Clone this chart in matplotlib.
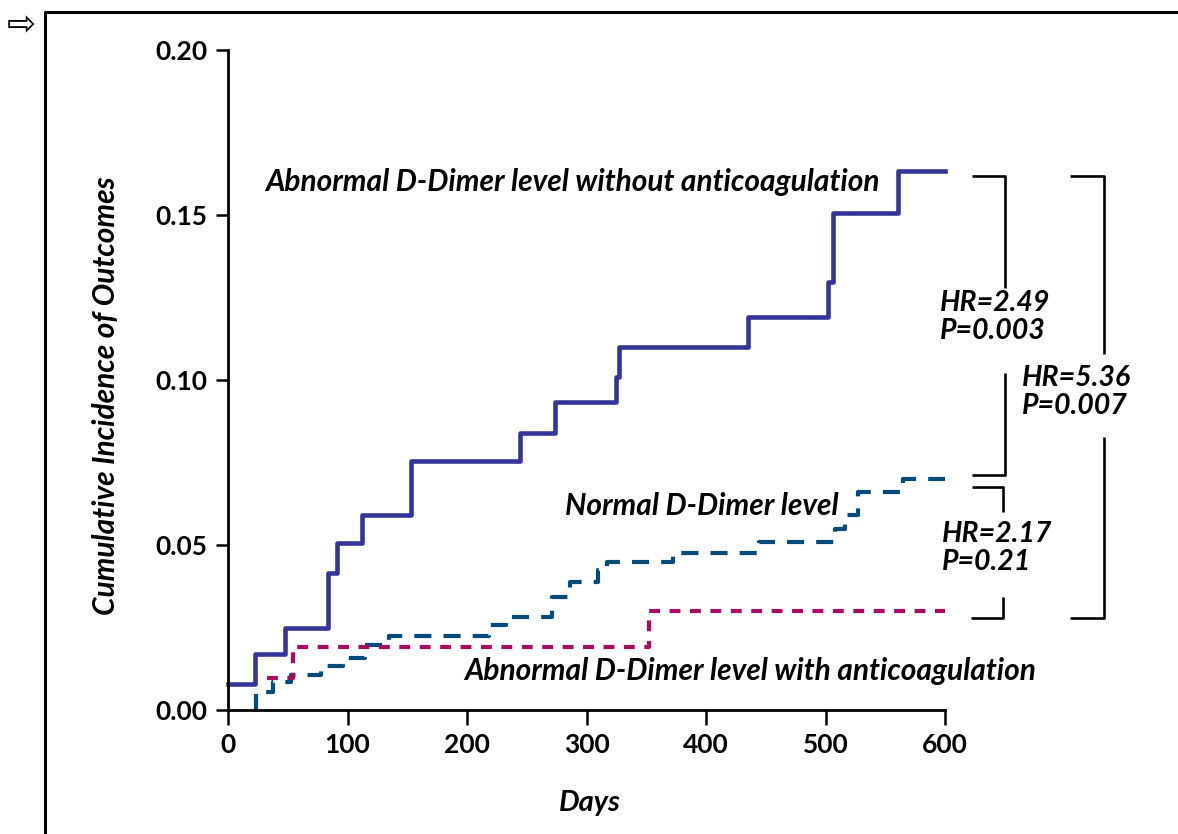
import numpy as np
import matplotlib
matplotlib.use("Agg")
import matplotlib.pyplot as plt

# step data (days, cumulative incidence)
abn_noac_days = [0, 23, 48, 84, 91, 112, 153, 244, 274, 325, 327, 435, 502, 506, 561, 600]
abn_noac_vals = [0.008, 0.017, 0.025, 0.0415, 0.0506, 0.059, 0.0755, 0.084, 0.0933, 0.101,
                 0.110, 0.119, 0.1297, 0.1506, 0.1633, 0.1633]

normal_days = [23, 23.5, 38, 53, 78, 96, 115, 135, 218, 233, 271, 286, 310, 317, 372,
               444, 508, 516, 527, 565, 600]
normal_vals = [0.0, 0.0055, 0.0085, 0.0106, 0.0133, 0.0158, 0.0197, 0.0224, 0.0258, 0.0282,
               0.0342, 0.0388, 0.0424, 0.0448, 0.0476, 0.051, 0.055, 0.059, 0.066, 0.070, 0.070]

abn_ac_days = [33, 54, 352, 600]
abn_ac_vals = [0.0097, 0.019, 0.030, 0.030]

xticks = [0, 100, 200, 300, 400, 500, 600]
yticks = [0.00, 0.05, 0.10, 0.15, 0.20]

FONT = ['Lato', 'DejaVu Sans']
c_solid = '#34349a'
c_navy = '#054a7b'
c_maroon = '#a90b5e'

fig = plt.figure(figsize=(11.78, 8.34), dpi=100)
ax = fig.add_axes([228/1178, 1-710/834, (945-228)/1178, (710-50)/834])
ax.set_xlim(0, 600)
ax.set_ylim(0, 0.20)

ax.step(abn_noac_days, abn_noac_vals, where='post', color=c_solid, lw=3.3, clip_on=False)
ax.step(normal_days, normal_vals, where='post', color=c_navy, lw=3.0,
        dashes=(4.1, 2.9), dash_capstyle='butt', clip_on=False)
ax.step(abn_ac_days, abn_ac_vals, where='post', color=c_maroon, lw=3.0,
        dashes=(2.6, 2.3), dash_capstyle='butt', clip_on=False)

for s in ['top', 'right']:
    ax.spines[s].set_visible(False)
for s in ['left', 'bottom']:
    ax.spines[s].set_linewidth(2.0)

ax.set_xticks(xticks)
ax.set_yticks(yticks)
ax.set_xticklabels([str(t) for t in xticks], fontsize=19, fontweight='bold', family=FONT)
ax.set_yticklabels(['%.2f' % t for t in yticks], fontsize=19, fontweight='bold', family=FONT)
ax.tick_params(axis='x', length=10.5, width=1.8, pad=6, direction='out')
ax.tick_params(axis='y', length=8.5, width=1.8, pad=6, direction='out')

lab = dict(fontsize=21.5, fontweight='bold', fontstyle='italic', family=FONT)
ax.text(31, 0.160, 'Abnormal D-Dimer level without anticoagulation', ha='left', va='center', **lab)
ax.text(282, 0.0618, 'Normal D-Dimer level', ha='left', va='center', **lab)
ax.text(198, 0.0118, 'Abnormal D-Dimer level with anticoagulation', ha='left', va='center',
        clip_on=False, **lab)

hr = dict(fontsize=20.5, fontweight='bold', fontstyle='italic', family=FONT, linespacing=1.1)
ax.text(596, 0.119, 'HR=2.49\nP=0.003', ha='left', va='center', clip_on=False, **hr)
ax.text(664, 0.0964, 'HR=5.36\nP=0.007', ha='left', va='center', clip_on=False, **hr)
ax.text(597.5, 0.049, 'HR=2.17\nP=0.21', ha='left', va='center', clip_on=False, **hr)

# brackets (days / incidence, drawn outside the plot area)
top = abn_noac_vals[-1] - 0.0015
mid_a = normal_vals[-1] + 0.0012
mid_c = normal_vals[-1] - 0.0024
bot = abn_ac_vals[-1] - 0.0021
bk = dict(color='black', lw=1.9, clip_on=False, solid_capstyle='butt')
# HR=2.49 bracket
ax.plot([623, 650, 650], [top, top, 0.128], **bk)
ax.plot([650, 650, 623], [0.102, mid_a, mid_a], **bk)
# HR=5.36 bracket
ax.plot([705, 733, 733], [top, top, 0.108], **bk)
ax.plot([733, 733, 705], [0.0827, bot, bot], **bk)
# HR=2.17 bracket
ax.plot([623, 648.5, 648.5], [mid_c, mid_c, 0.060], **bk)
ax.plot([648.5, 648.5, 622], [0.0343, bot, bot], **bk)

fig.text(590/1178, 1-803/834, 'Days', ha='center', va='center', fontsize=21,
         fontweight='bold', fontstyle='italic', family=FONT)
fig.text(106/1178, 1-396/834, 'Cumulative Incidence of Outcomes', ha='center', va='center',
         rotation=90, fontsize=21.5, fontweight='bold', fontstyle='italic', family=FONT)

# page frame and marker arrow
fig.add_artist(plt.Line2D([45/1178, 45/1178, 1], [0, 1-12/834, 1-12/834],
                          transform=fig.transFigure, color='black', lw=2.2))
fig.text(21/1178, 1-25/834, '\u21e8', ha='center', va='center', fontsize=25,
         family=['DejaVu Sans'])

fig.savefig('out.png', dpi=100)
